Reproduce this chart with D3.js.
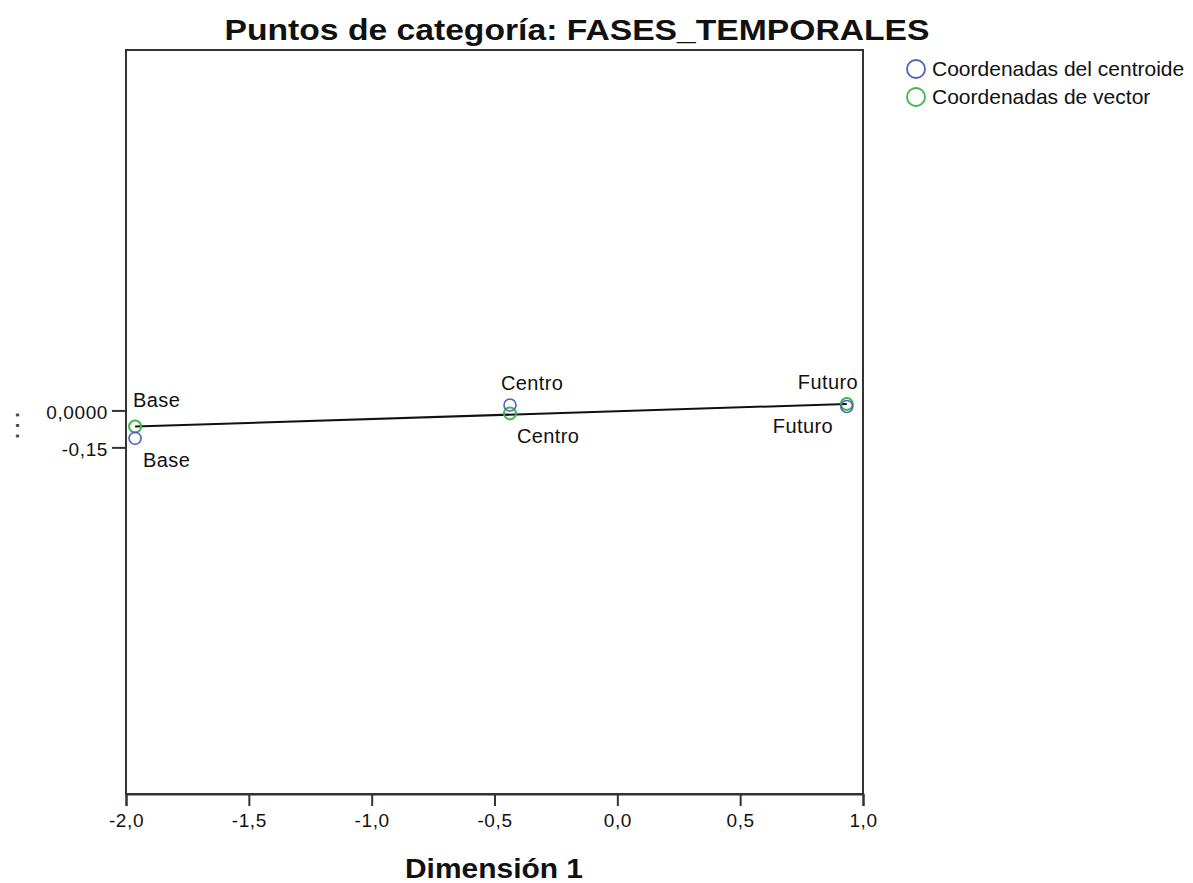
<!DOCTYPE html>
<html>
<head>
<meta charset="utf-8">
<script src="https://cdn.jsdelivr.net/npm/d3@7"></script>
<style>
  body { margin: 0; background: #fff; }
  svg { font-family: "Liberation Sans", Arial, sans-serif; }
</style>
</head>
<body>
<div id="chart"></div>
<script>
const categories = ['Base', 'Centro', 'Futuro'];
const centroidX = [-1.963, -0.437, 0.934];
const centroidY = [-0.113, 0.022, 0.016];
const vectorX = [-1.963, -0.437, 0.934];
const vectorY = [-0.065, -0.012, 0.026];
const xTicks = [-2.0, -1.5, -1.0, -0.5, 0.0, 0.5, 1.0];
const yTicks = [0.0, -0.15];
const yTickLabels = ['0,0000', '-0,15'];

const width = 1193, height = 883;
const plot = { left: 126, right: 863, top: 50, bottom: 794 };

const svg = d3.select('#chart').append('svg')
  .attr('width', width)
  .attr('height', height);

const x = d3.scaleLinear().domain([-2, 1]).range([plot.left, plot.right]);
const y = d3.scaleLinear().domain([-1.557, 1.463]).range([plot.bottom, plot.top]);

// frame
svg.append('rect')
  .attr('x', plot.left).attr('y', plot.top)
  .attr('width', plot.right - plot.left).attr('height', plot.bottom - plot.top)
  .attr('fill', 'none').attr('stroke', '#333').attr('stroke-width', 2);

// x axis
const xAxis = svg.append('g')
  .attr('transform', `translate(0,${plot.bottom})`)
  .call(d3.axisBottom(x).tickValues(xTicks).tickSize(12).tickPadding(8)
    .tickFormat(d => d3.format('.1f')(d).replace('.', ',').replace('−', '-')));
xAxis.select('.domain').attr('stroke', '#333').attr('stroke-width', 2);
xAxis.selectAll('.tick line').attr('stroke', '#333').attr('stroke-width', 2);
xAxis.selectAll('text').attr('font-size', 19).attr('fill', '#111')
  .attr('letter-spacing', 0.6)
  .attr('font-family', '"Liberation Sans", Arial, sans-serif');

// y axis
const yAxis = svg.append('g')
  .attr('transform', `translate(${plot.left},0)`)
  .call(d3.axisLeft(y).tickValues(yTicks).tickSize(14).tickPadding(4)
    .tickFormat((d, i) => yTickLabels[i]));
yAxis.select('.domain').remove();
yAxis.selectAll('.tick line').attr('stroke', '#333').attr('stroke-width', 2);
yAxis.selectAll('text').attr('font-size', 19).attr('fill', '#111')
  .attr('letter-spacing', 0.6).attr('dy', '0.45em')
  .attr('font-family', '"Liberation Sans", Arial, sans-serif');

// collapsed y title
svg.append('text')
  .attr('transform', 'translate(19,423) rotate(-90)')
  .attr('text-anchor', 'middle')
  .attr('font-size', 20).attr('font-weight', 'bold').attr('fill', '#444')
  .attr('letter-spacing', 5)
  .text('...');

// vector line
svg.append('line')
  .attr('x1', x(vectorX[0])).attr('y1', y(vectorY[0]))
  .attr('x2', x(vectorX[2])).attr('y2', y(vectorY[2]))
  .attr('stroke', '#111').attr('stroke-width', 2);

const centroids = categories.map((c, i) => ({ name: c, x: centroidX[i], y: centroidY[i] }));
const vectors = categories.map((c, i) => ({ name: c, x: vectorX[i], y: vectorY[i] }));

svg.append('g').selectAll('circle')
  .data(vectors)
  .join('circle')
  .attr('cx', d => x(d.x)).attr('cy', d => y(d.y)).attr('r', 6)
  .attr('fill', 'none').attr('stroke', '#3cb84a').attr('stroke-width', 2);

svg.append('g').selectAll('circle')
  .data(centroids)
  .join('circle')
  .attr('cx', d => x(d.x)).attr('cy', d => y(d.y)).attr('r', 6)
  .attr('fill', 'none').attr('stroke', '#4a62c0').attr('stroke-width', 1.6);

// point labels (offsets in px relative to point)
const centroidLabelOffset = [[8, 29], [-9, -15], [-74, 27]];
const vectorLabelOffset = [[-2, -19], [7, 30], [-49, -15]];

svg.append('g').selectAll('text')
  .data(centroids)
  .join('text')
  .attr('x', (d, i) => x(d.x) + centroidLabelOffset[i][0])
  .attr('y', (d, i) => y(d.y) + centroidLabelOffset[i][1])
  .attr('font-size', 20).attr('letter-spacing', 0.4).attr('fill', '#111')
  .text(d => d.name);

svg.append('g').selectAll('text')
  .data(vectors)
  .join('text')
  .attr('x', (d, i) => x(d.x) + vectorLabelOffset[i][0])
  .attr('y', (d, i) => y(d.y) + vectorLabelOffset[i][1])
  .attr('font-size', 20).attr('letter-spacing', 0.4).attr('fill', '#111')
  .text(d => d.name);

// title
svg.append('text')
  .attr('x', 577).attr('y', 40)
  .attr('text-anchor', 'middle')
  .attr('font-size', 30).attr('font-weight', 'bold').attr('fill', '#111')
  .attr('textLength', 705).attr('lengthAdjust', 'spacingAndGlyphs')
  .text('Puntos de categoría: FASES_TEMPORALES');

// x title
svg.append('text')
  .attr('x', 494).attr('y', 878)
  .attr('text-anchor', 'middle')
  .attr('font-size', 28).attr('font-weight', 'bold').attr('fill', '#111')
  .attr('textLength', 178).attr('lengthAdjust', 'spacingAndGlyphs')
  .text('Dimensión 1');

// legend
const legend = [
  { label: 'Coordenadas del centroide', color: '#4a62c0' },
  { label: 'Coordenadas de vector', color: '#3cb84a' }
];
const lg = svg.append('g');
lg.selectAll('circle')
  .data(legend)
  .join('circle')
  .attr('cx', 916).attr('cy', (d, i) => 69 + i * 28).attr('r', 9)
  .attr('fill', 'none').attr('stroke', d => d.color).attr('stroke-width', 1.8);
lg.selectAll('text')
  .data(legend)
  .join('text')
  .attr('x', 932).attr('y', (d, i) => 76 + i * 28)
  .attr('font-size', 21).attr('fill', '#111')
  .text(d => d.label);
</script>
</body>
</html>
